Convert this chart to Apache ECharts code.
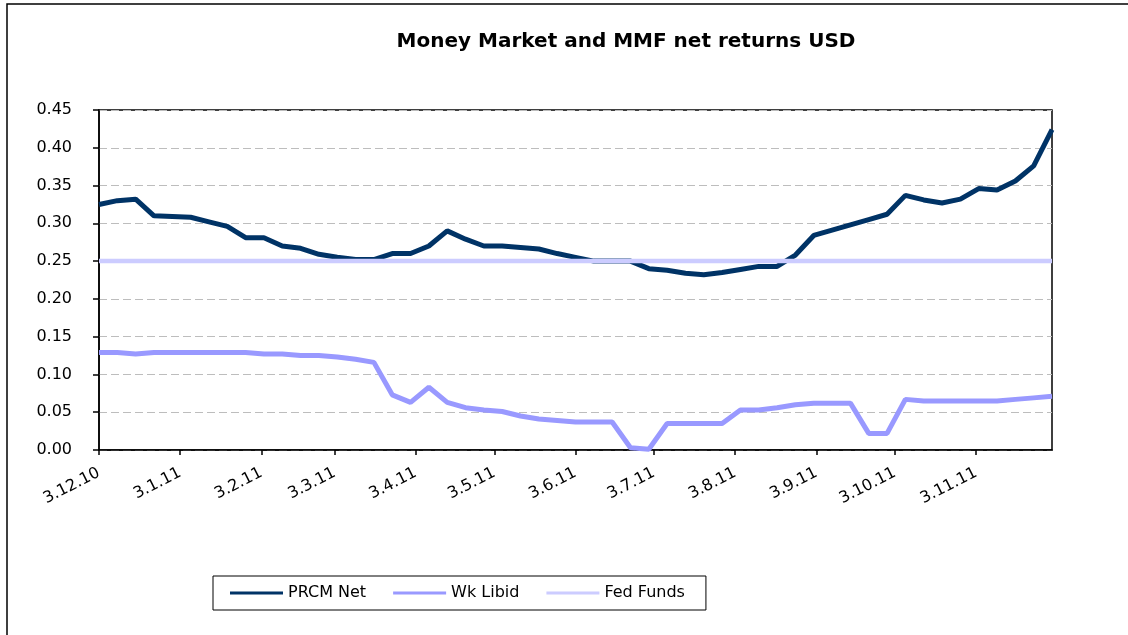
<!DOCTYPE html>
<html>
<head>
<meta charset="utf-8">
<script src="https://cdn.jsdelivr.net/npm/echarts@6/dist/echarts.min.js"></script>
<style>
  html, body { margin: 0; padding: 0; background: #fff; }
  #chart { width: 1128px; height: 635px; }
</style>
</head>
<body>
<div id="chart"></div>
<script>
// weekly observations, first one on 3.12.10
const startDate = new Date(2010, 11, 3)
const weekCount = 53

// month ticks shown on the axis
const monthTicks = [
  [2010, 11], [2011, 0], [2011, 1], [2011, 2], [2011, 3], [2011, 4],
  [2011, 5], [2011, 6], [2011, 7], [2011, 8], [2011, 9], [2011, 10]
]

const prcmNet = [
  0.325, 0.330, 0.332, 0.310, 0.309, 0.308, 0.302, 0.296, 0.281, 0.281,
  0.270, 0.267, 0.259, 0.255, 0.252, 0.252, 0.260, 0.260, 0.270, 0.290,
  0.279, 0.270, 0.270, 0.268, 0.266, 0.260, 0.255, 0.250, 0.250, 0.250,
  0.240, 0.238, 0.234, 0.232, 0.235, 0.239, 0.243, 0.243, 0.258, 0.284,
  0.291, 0.298, 0.305, 0.312, 0.337, 0.331, 0.327, 0.332, 0.346, 0.344,
  0.356, 0.376, 0.424
]

const wkLibid = [
  0.129, 0.129, 0.127, 0.129, 0.129, 0.129, 0.129, 0.129, 0.129, 0.127,
  0.127, 0.125, 0.125, 0.123, 0.120, 0.116, 0.073, 0.063, 0.083, 0.063,
  0.056, 0.053, 0.051, 0.045, 0.041, 0.039, 0.037, 0.037, 0.037, 0.003,
  0.001, 0.035, 0.035, 0.035, 0.035, 0.053, 0.053, 0.056, 0.060, 0.062,
  0.062, 0.062, 0.022, 0.022, 0.067, 0.065, 0.065, 0.065, 0.065, 0.065,
  0.067, 0.069, 0.071
]

const fedFunds = [
  0.25, 0.25, 0.25, 0.25, 0.25, 0.25, 0.25, 0.25, 0.25, 0.25,
  0.25, 0.25, 0.25, 0.25, 0.25, 0.25, 0.25, 0.25, 0.25, 0.25,
  0.25, 0.25, 0.25, 0.25, 0.25, 0.25, 0.25, 0.25, 0.25, 0.25,
  0.25, 0.25, 0.25, 0.25, 0.25, 0.25, 0.25, 0.25, 0.25, 0.25,
  0.25, 0.25, 0.25, 0.25, 0.25, 0.25, 0.25, 0.25, 0.25, 0.25,
  0.25, 0.25, 0.25
]

// x is measured in days since the first observation
const DAY = 24 * 3600 * 1000
const dayOf = d => Math.round((d.getTime() - startDate.getTime()) / DAY)

const weekDays = []
for (let i = 0; i < weekCount; i++) weekDays.push(7 * i)
const tickDays = monthTicks.map(m => dayOf(new Date(m[0], m[1], 3)))

const pairs = values => values.map((v, i) => [weekDays[i], v])

const dayLabel = day => {
  const d = new Date(startDate.getTime() + day * DAY + 12 * 3600 * 1000)
  return d.getDate() + '.' + (d.getMonth() + 1) + '.' + String(d.getFullYear()).slice(2)
}

// the original uses wide lettering, DejaVu is the closest wide face
const fontFamily = '"DejaVu Sans", "Liberation Sans", Arial, sans-serif'

const chart = echarts.init(document.getElementById('chart'))

chart.setOption({
  backgroundColor: '#fff',
  animation: false,
  textStyle: { fontFamily: fontFamily, color: '#000' },
  title: {
    text: 'Money Market and MMF net returns USD',
    left: 621,
    textAlign: 'center',
    top: 27,
    textStyle: { fontSize: 20, fontWeight: 'bold', color: '#000', fontFamily: fontFamily }
  },
  graphic: [{
    type: 'rect',
    shape: { x: 7, y: 4, width: 1200, height: 700 },
    style: { fill: 'none', stroke: '#000', lineWidth: 1.5 },
    silent: true
  }],
  legend: {
    left: 213,
    top: 576,
    padding: [9, 21, 9, 17],
    borderColor: '#000',
    borderWidth: 1,
    icon: 'rect',
    itemWidth: 53,
    itemHeight: 3,
    itemGap: 27,
    textStyle: { fontSize: 16, color: '#000', fontFamily: fontFamily },
    data: ['PRCM Net', 'Wk Libid', 'Fed Funds']
  },
  grid: {
    left: 99,
    top: 110,
    right: 76,
    bottom: 185,
    show: true,
    borderColor: '#000',
    borderWidth: 1.5,
    containLabel: false
  },
  xAxis: {
    type: 'value',
    min: 0,
    max: weekDays[weekDays.length - 1],
    axisLine: { show: true, onZero: false, lineStyle: { color: '#000', width: 1.5 } },
    axisTick: {
      show: true,
      inside: false,
      length: 5,
      customValues: tickDays,
      lineStyle: { color: '#000', width: 1.5 }
    },
    axisLabel: {
      customValues: tickDays,
      rotate: 27,
      margin: 22,
      fontSize: 16,
      color: '#000',
      fontFamily: fontFamily,
      formatter: dayLabel
    },
    splitLine: { show: false }
  },
  yAxis: {
    type: 'value',
    min: 0,
    max: 0.45,
    interval: 0.05,
    axisLine: { show: true, lineStyle: { color: '#000', width: 1.5 } },
    axisTick: { show: true, length: 6, lineStyle: { color: '#000', width: 1.5 } },
    axisLabel: {
      margin: 27,
      fontSize: 16,
      color: '#000',
      fontFamily: fontFamily,
      formatter: v => v.toFixed(2)
    },
    splitLine: {
      show: true,
      lineStyle: { color: '#bdbdbd', type: [8, 4], width: 1 }
    }
  },
  series: [
    {
      name: 'PRCM Net',
      type: 'line',
      data: pairs(prcmNet),
      symbol: 'none',
      lineStyle: { color: '#003366', width: 5 },
      itemStyle: { color: '#003366' }
    },
    {
      name: 'Wk Libid',
      type: 'line',
      data: pairs(wkLibid),
      symbol: 'none',
      lineStyle: { color: '#9999ff', width: 5 },
      itemStyle: { color: '#9999ff' }
    },
    {
      name: 'Fed Funds',
      type: 'line',
      data: pairs(fedFunds),
      symbol: 'none',
      lineStyle: { color: '#ccccff', width: 4.5 },
      itemStyle: { color: '#ccccff' }
    }
  ]
})
</script>
</body>
</html>
